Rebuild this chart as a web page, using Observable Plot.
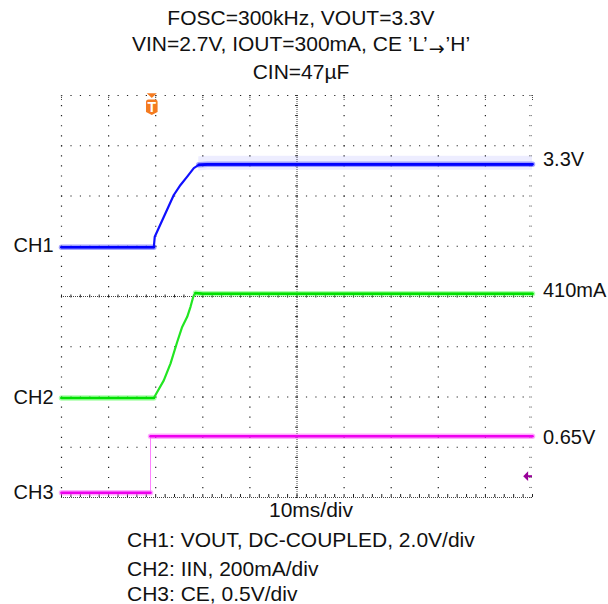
<!DOCTYPE html>
<html><head><meta charset="utf-8">
<script src="https://cdn.jsdelivr.net/npm/d3@7"></script>
<script src="https://cdn.jsdelivr.net/npm/@observablehq/plot@0.6"></script>
<style>
html,body{margin:0;padding:0;background:#fff;}
#wrap{position:relative;width:608px;height:604px;overflow:hidden;font-family:"Liberation Sans",Arial,Helvetica,sans-serif;color:#111;}
.ln{position:absolute;font-size:21px;line-height:21px;white-space:nowrap;}
.c{left:0;width:602px;text-align:center;}
.arr{font-family:"DejaVu Sans",sans-serif;font-size:19px;vertical-align:-4px;margin:0 1px;}
#chart{position:absolute;left:0;top:85px;}
</style></head>
<body><div id="wrap">
<div class="ln c" style="top:7.2px">FOSC=300kHz, VOUT=3.3V</div>
<div class="ln c" style="top:33.2px">VIN=2.7V, IOUT=300mA, CE ’L’<span class="arr">→</span>’H’</div>
<div class="ln c" style="top:61.2px">CIN=47µF</div>
<div id="chart"></div>
<div class="ln" style="top:498.7px;left:269px">10ms/div</div>
<div class="ln" style="top:529.2px;left:127px">CH1: VOUT, DC-COUPLED, 2.0V/div</div>
<div class="ln" style="top:558.2px;left:127px">CH2: IIN, 200mA/div</div>
<div class="ln" style="top:583.2px;left:127px">CH3: CE, 0.5V/div</div>
</div>
<script>
// ---- data ----
const ch1Time = [0, 19.6, 19.8, 23.84, 25.27, 26.69, 28.09, 29.15, 31, 100];          // ms
const ch1Volt = [0, 0, 0.42, 2.08, 2.48, 2.81, 3.15, 3.28, 3.3, 3.3];                  // V
const ch2Time = [0, 19.6, 20.32, 21.72, 23.14, 24.56, 25.62, 26.69, 27.39, 27.96, 28.45, 30, 100];
const ch2Current = [0, 0, 24, 70, 137, 223, 283, 323, 363, 402, 418, 415, 415];       // mA
const ch3Time = [0, 18.9, 18.9, 40, 60, 80, 100];
const ch3Volt = [0, 0, 0.563, 0.563, 0.563, 0.563, 0.563];                             // V
const channelNames = ["CH1", "CH2", "CH3"];
const channelPerDiv = [2.0, 200, 0.5];
const channelGround = [4.98, 1.98, 0.094];   // ground marker position, divisions from bottom
const levelLabels = ["3.3V", "410mA", "0.65V"];
const levelValues = [3.3, 415, 0.563];
const triggerTime = 19.17;      // ms
const ch3TriggerLevel = 0.165;  // V

// ---- graticule ----
const majorX = d3.range(0, 101, 10);
const majorY = d3.range(0, 9, 1);
const minorX = d3.range(0, 100.001, 2);
const minorY = d3.range(0, 8.001, 0.2);

const toDiv = (ch, v) => channelGround[ch] + v / channelPerDiv[ch];

function rows(ch, T, V, iStart, iEnd) {
  return T.map((t, i) => ({t, y: toDiv(ch, V[i]), seg: i <= iStart ? "a" : i >= iEnd ? "b" : null}));
}
const r1 = rows(0, ch1Time, ch1Volt, 1, 7);
const r2 = rows(1, ch2Time, ch2Current, 1, 10);
const r3 = rows(2, ch3Time, ch3Volt, 1, 2);

function traceMarks(r, core, halo, riseWidth, riseColor) {
  const flat = r.filter(d => d.seg);
  return [
    Plot.line(flat, {x: "t", y: "y", z: "seg", stroke: halo, strokeWidth: 5.5, strokeOpacity: 0.55}),
    Plot.line(r, {x: "t", y: "y", stroke: riseColor, strokeWidth: riseWidth}),
    Plot.line(flat, {x: "t", y: "y", z: "seg", stroke: core, strokeWidth: 2.6})
  ];
}

const shield = {draw(ctx) {
  const w = 5.8, top = -7.8, bot = 7.8, r = 2.5;
  ctx.moveTo(-w + r, top); ctx.lineTo(w - r, top); ctx.quadraticCurveTo(w, top, w, top + r);
  ctx.lineTo(w, bot - 3); ctx.lineTo(0, bot); ctx.lineTo(-w, bot - 3);
  ctx.lineTo(-w, top + r); ctx.quadraticCurveTo(-w, top, -w + r, top); ctx.closePath();
}};
const downTri = {draw(ctx) { ctx.moveTo(-5, -2.3); ctx.lineTo(5, -2.3); ctx.lineTo(0, 2.5); ctx.closePath(); }};
const leftTri = {draw(ctx) { ctx.moveTo(-4.6, 0); ctx.lineTo(0.3, -4.9); ctx.lineTo(0.3, 4.9); ctx.closePath(); }};

const font = "'Liberation Sans', Arial, Helvetica, sans-serif";
const leftDy = [-1.5, 0, 0];
const rightDy = [-4.3, -2.9, 1.2];
const ch1Plateau = r1.filter(d => d.seg === "b");

const chart = Plot.plot({
  width: 608, height: 420,
  marginTop: 10, marginBottom: 8, marginLeft: 61, marginRight: 76,
  x: {domain: [0, 100], axis: null},
  y: {domain: [0, 8], axis: null},
  style: {background: "transparent", overflow: "visible"},
  marks: [
    // dotted major graticule
    Plot.ruleX(majorX.filter(x => x !== 50 && x !== 100), {stroke: "#222", strokeWidth: 1.2, strokeDasharray: "1.2 8.85"}),
    Plot.ruleY(majorY.filter(y => y !== 0 && y !== 4), {stroke: "#222", strokeWidth: 1.2, strokeDasharray: "1.2 8.22"}),
    // centre axes with minor ticks
    Plot.ruleX([50], {stroke: "#444", strokeDasharray: "1 1"}),
    Plot.ruleY(minorY, {y: d => d, x1: 49.7, x2: 50.3, stroke: "#222"}),
    Plot.ruleY([4], {stroke: "#444", strokeDasharray: "1 1"}),
    Plot.ruleX(minorX, {x: d => d, y1: 3.97, y2: 4.03, stroke: "#222"}),
    // bottom edge
    Plot.ruleY([0], {stroke: "#444", strokeDasharray: "1 1"}),
    Plot.ruleX(minorX, {x: d => d, y1: 0, y2: 0.06, stroke: "#222"}),
    // top edge major ticks, right edge minor ticks
    Plot.ruleX(majorX, {x: d => d, y1: 7.9, y2: 8, stroke: "#444", strokeDasharray: "1 1"}),
    Plot.ruleY(minorY, {y: d => d, x1: 99.45, x2: 100, stroke: "#333", strokeDasharray: "1 1"}),
    // traces
    Plot.areaY(ch1Plateau, {x: "t", y1: d => d.y - 0.12, y2: d => d.y + 0.16, fill: "#5050ff", fillOpacity: 0.1}),
    ...traceMarks(r3, "#ee00ee", "#ff66ff", 1, "#ff80ff"),
    ...traceMarks(r2, "#00e000", "#66ff66", 2.2, "#22e622"),
    ...traceMarks(r1, "#0000ff", "#5a5aff", 2.2, "#1010ff"),
    // trigger marker
    Plot.dot([triggerTime], {x: d => d, y: () => 8, symbol: downTri, r: 5, fill: "#f47b20", stroke: null}),
    Plot.dot([triggerTime], {x: d => d, y: () => 8, dy: 11.8, symbol: shield, r: 5, fill: "#f47b20", stroke: null}),
    Plot.text(["T"], {x: () => triggerTime, y: () => 8, dy: 12, text: d => d, fill: "white", fontWeight: "bold", fontSize: 14, fontFamily: font}),
    // CH3 trigger level arrow
    Plot.ruleY([toDiv(2, ch3TriggerLevel)], {x1: 99.0, x2: 100, stroke: "#990099", strokeWidth: 2}),
    Plot.dot([toDiv(2, ch3TriggerLevel)], {x: () => 100, y: d => d, dx: -4.7, symbol: leftTri, r: 5, fill: "#990099", stroke: null}),
    // channel labels
    ...channelNames.map((n, i) => Plot.text([n], {x: () => 0, y: () => channelGround[i], text: d => d, textAnchor: "start", dx: -48, dy: leftDy[i], fontSize: 20, fontFamily: font, fill: "#111"})),
    ...levelLabels.map((n, i) => Plot.text([n], {x: () => 100, y: () => toDiv(i, levelValues[i]), text: d => d, textAnchor: "start", dx: 10.5, dy: rightDy[i], fontSize: 20, fontFamily: font, fill: "#111"}))
  ]
});
document.getElementById("chart").appendChild(chart);
</script>
</body></html>
